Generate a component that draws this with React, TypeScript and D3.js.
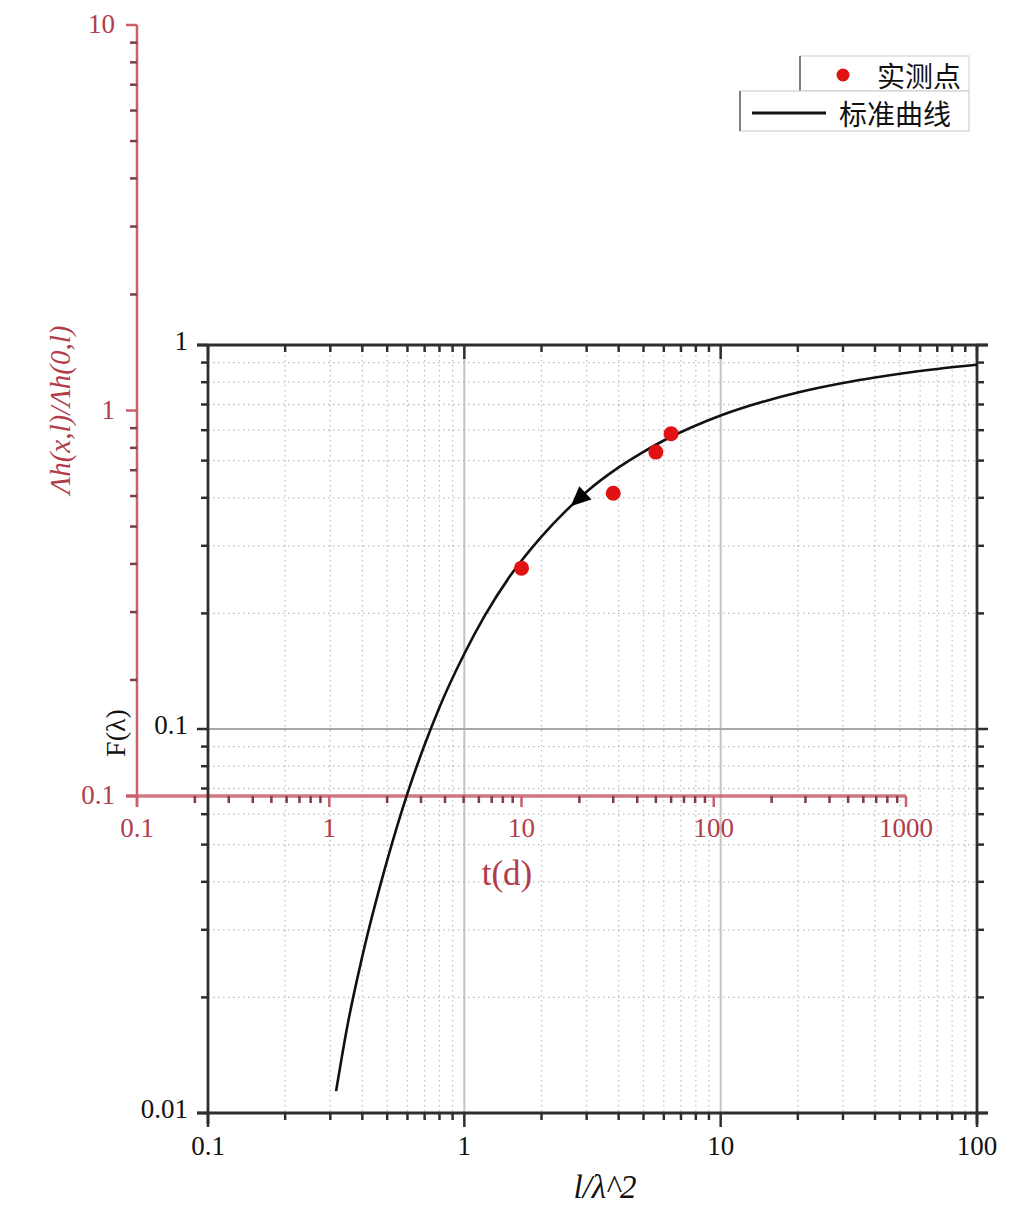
import React from "react";
import * as d3 from "d3";

// Standard curve F(λ) vs 1/λ^2 (black axes)
const curveX = [0.316, 0.35, 0.4, 0.5, 0.6, 0.7, 0.8, 1, 1.2, 1.5, 2, 2.5, 3, 4, 5, 6, 8, 10, 15, 20, 30, 40, 50, 70, 100];
const curveY = [0.0114, 0.0169, 0.0256, 0.0455, 0.068, 0.091, 0.114, 0.157, 0.197, 0.249, 0.317, 0.371, 0.415, 0.48, 0.527, 0.564, 0.617, 0.655, 0.715, 0.752, 0.796, 0.823, 0.842, 0.866, 0.888];
// Measured points (red axes): t(d) vs Δh ratio
const measT = [10, 30, 50, 60];
const measRatio = [0.39, 0.61, 0.78, 0.87];
// Arrow position along the curve (x value)
const arrowAt = 2.6;

const blackXDomain = [0.1, 100];
const blackYDomain = [0.01, 1];
const redXDomain = [0.1, 1000];
const redYDomain = [0.1, 10];
const blackXTickValues = [0.1, 1, 10, 100];
const blackYTickValues = [0.01, 0.1, 1];
const redXTickValues = [0.1, 1, 10, 100, 1000];
const redYTickValues = [0.1, 1, 10];
const blackXTickLabels = ["0.1", "1", "10", "100"];
const blackYTickLabels = ["0.01", "0.1", "1"];
const redXTickLabels = ["0.1", "1", "10", "100", "1000"];
const redYTickLabels = ["0.1", "1", "10"];
const legendLabels = ["实测点", "标准曲线"];

const isMajor = (v: number) => Math.abs(Math.log10(v) - Math.round(Math.log10(v))) < 1e-6;

const SERIF = "'Liberation Serif', 'DejaVu Serif', serif";
const CJK = "'Noto Sans CJK SC', 'Noto Sans', sans-serif";
const RED_TXT = "#b23c4a";
const RED_AX = "#c8606c";
const RED_TICK = "#7e3c4c";
const AX = "#2e2e2e";

export default function App() {
  const xB = d3.scaleLog().domain(blackXDomain).range([208, 977]);
  const yB = d3.scaleLog().domain(blackYDomain).range([1113, 345]);
  const xR = d3.scaleLog().domain(redXDomain).range([137, 906]);
  const yR = d3.scaleLog().domain(redYDomain).range([796, 25]);

  const bxTicks = xB.ticks();
  const byTicks = yB.ticks();
  const rxTicks = xR.ticks();
  const ryTicks = yR.ticks();

  const [x0, x1] = xB.range();
  const [y0, y1] = yB.range(); // y0 bottom, y1 top

  const pts = curveX.map((x, i) => [x, curveY[i]] as [number, number]);
  const line = d3
    .line<[number, number]>()
    .x((d) => xB(d[0]))
    .y((d) => yB(d[1]))
    .curve(d3.curveMonotoneX);

  // arrow: interpolate along curve in log space
  let ai = 0;
  while (ai < curveX.length - 2 && curveX[ai + 1] < arrowAt) ai++;
  const la = Math.log10(curveX[ai]);
  const lb = Math.log10(curveX[ai + 1]);
  const tt = (Math.log10(arrowAt) - la) / (lb - la);
  const ay = Math.pow(10, Math.log10(curveY[ai]) * (1 - tt) + Math.log10(curveY[ai + 1]) * tt);
  const tipX = xB(arrowAt);
  const tipY = yB(ay);
  const dx = xB(curveX[ai + 1]) - xB(curveX[ai]);
  const dy = yB(curveY[ai + 1]) - yB(curveY[ai]);
  const len = Math.hypot(dx, dy);
  const ux = dx / len;
  const uy = dy / len;
  const aL = 20;
  const aW = 9;
  const bx = tipX + ux * aL;
  const by = tipY + uy * aL;
  const arrowPath = `M${tipX},${tipY} L${bx - uy * aW},${by + ux * aW} L${bx + uy * aW},${by - ux * aW} Z`;

  const minorLen = 7;
  const majorLen = 11;

  return (
    <svg
      width={1013}
      height={1208}
      style={{ position: "absolute", left: 0, top: 0, display: "block", background: "#fff" }}
    >
      <rect x={0} y={0} width={1013} height={1208} fill="#fff" />

      {/* black grid */}
      <g>
        {bxTicks
          .filter((v) => v > blackXDomain[0] * 1.0001 && v < blackXDomain[1] * 0.9999)
          .map((v, i) =>
            isMajor(v) ? (
              <line key={"gx" + i} x1={xB(v)} x2={xB(v)} y1={y1} y2={y0} stroke="#c4c4c4" strokeWidth={2} />
            ) : (
              <line key={"gx" + i} x1={xB(v)} x2={xB(v)} y1={y1} y2={y0} stroke="#c2c2c2" strokeWidth={1.3} strokeDasharray="1.5,3.5" />
            )
          )}
        {byTicks
          .filter((v) => v > blackYDomain[0] * 1.0001 && v < blackYDomain[1] * 0.9999)
          .map((v, i) =>
            isMajor(v) ? (
              <line key={"gy" + i} x1={x0} x2={x1} y1={yB(v)} y2={yB(v)} stroke="#a8a8a8" strokeWidth={1.8} />
            ) : (
              <line key={"gy" + i} x1={x0} x2={x1} y1={yB(v)} y2={yB(v)} stroke="#bdbdbd" strokeWidth={1.3} strokeDasharray="1.5,3.5" />
            )
          )}
      </g>

      {/* red axes */}
      <g>
        <line x1={xR(redXDomain[0]) - majorLen} x2={xR(redXDomain[1])} y1={yR(redYDomain[0])} y2={yR(redYDomain[0])} stroke={RED_AX} strokeWidth={3.5} opacity={0.85} />
        <line x1={xR(redXDomain[0])} x2={xR(redXDomain[0])} y1={yR(redYDomain[1])} y2={yR(redYDomain[0]) + majorLen} stroke={RED_AX} strokeWidth={2.5} />
        {ryTicks.map((v, i) => (
          <line
            key={"ryt" + i}
            x1={xR(redXDomain[0]) - (isMajor(v) ? majorLen : minorLen)}
            x2={xR(redXDomain[0])}
            y1={yR(v)}
            y2={yR(v)}
            stroke={isMajor(v) ? RED_AX : RED_TICK}
            strokeWidth={2.5}
          />
        ))}
        {rxTicks.map((v, i) => (
          <line
            key={"rxt" + i}
            x1={xR(v)}
            x2={xR(v)}
            y1={yR(redYDomain[0])}
            y2={yR(redYDomain[0]) + (isMajor(v) ? majorLen : minorLen)}
            stroke={isMajor(v) ? RED_AX : RED_TICK}
            strokeWidth={2.5}
          />
        ))}
        {redYTickValues.map((v, i) => (
          <text
            key={"ryl" + i}
            x={115}
            y={yR(v)}
            dy="-1"
            textAnchor="end"
            dominantBaseline="central"
            fontFamily={SERIF}
            fontSize={27}
            fill={RED_TXT}
          >
            {redYTickLabels[i]}
          </text>
        ))}
        {redXTickValues.map((v, i) => (
          <text key={"rxl" + i} x={xR(v)} y={837} textAnchor="middle" fontFamily={SERIF} fontSize={27} fill={RED_TXT}>
            {redXTickLabels[i]}
          </text>
        ))}
        <text x={507} y={885} textAnchor="middle" fontFamily={SERIF} fontSize={35} fill={RED_TXT}>
          t(d)
        </text>
        <text
          transform="translate(60,410) rotate(-90)"
          textAnchor="middle"
          dominantBaseline="central"
          fontFamily={SERIF}
          fontStyle="italic"
          fontSize={29}
          fill={RED_TXT}
        >
          Λh(x,l)/Λh(0,l)
        </text>
      </g>

      {/* black axes */}
      <g>
        <line x1={x0 - majorLen} x2={x1 + majorLen} y1={y1} y2={y1} stroke={AX} strokeWidth={2.8} />
        <line x1={x0 - majorLen} x2={x1 + majorLen} y1={y0} y2={y0} stroke={AX} strokeWidth={2.8} />
        <line x1={x0} x2={x0} y1={y1} y2={y0 + majorLen} stroke={AX} strokeWidth={2.8} />
        <line x1={x1} x2={x1} y1={y1} y2={y0 + majorLen} stroke={AX} strokeWidth={2.8} />
        {byTicks.map((v, i) => {
          const L = isMajor(v) ? majorLen : minorLen;
          return (
            <g key={"byt" + i}>
              <line x1={x0 - L} x2={x0} y1={yB(v)} y2={yB(v)} stroke={AX} strokeWidth={2.5} />
              <line x1={x1} x2={x1 + L} y1={yB(v)} y2={yB(v)} stroke={AX} strokeWidth={2.5} />
            </g>
          );
        })}
        {bxTicks.map((v, i) => {
          const L = isMajor(v) ? majorLen + 3 : minorLen;
          return (
            <g key={"bxt" + i}>
              <line x1={xB(v)} x2={xB(v)} y1={y0} y2={y0 + L} stroke={AX} strokeWidth={2.5} />
              <line x1={xB(v)} x2={xB(v)} y1={y1} y2={y1 + L} stroke={AX} strokeWidth={2.5} />
            </g>
          );
        })}
        {blackYTickValues.map((v, i) => (
          <text
            key={"byl" + i}
            x={188}
            y={yB(v)}
            dy="-4"
            textAnchor="end"
            dominantBaseline="central"
            fontFamily={SERIF}
            fontSize={27}
            fill="#111"
          >
            {blackYTickLabels[i]}
          </text>
        ))}
        {blackXTickValues.map((v, i) => (
          <text key={"bxl" + i} x={xB(v)} y={1155} textAnchor="middle" fontFamily={SERIF} fontSize={27} fill="#111">
            {blackXTickLabels[i]}
          </text>
        ))}
        <text
          transform="translate(115,733) rotate(-90)"
          textAnchor="middle"
          dominantBaseline="central"
          fontFamily={SERIF}
          fontSize={28}
          fill="#111"
        >
          F(λ)
        </text>
        <text x={605} y={1198} textAnchor="middle" fontFamily={SERIF} fontStyle="italic" fontSize={33} fill="#111">
          l/λ^2
        </text>
      </g>

      {/* standard curve */}
      <path d={line(pts) || ""} fill="none" stroke="#111" strokeWidth={2.6} />
      <path d={arrowPath} fill="#000" />

      {/* measured points */}
      {measT.map((t, i) => (
        <circle key={"pt" + i} cx={xR(t)} cy={yR(measRatio[i])} r={7.5} fill="#e01212" />
      ))}

      {/* legend */}
      <g>
        <rect x={800} y={56} width={169} height={35} fill="#fff" stroke="#d8d8d8" strokeWidth={1.2} />
        <line x1={800} x2={800} y1={56} y2={91} stroke="#808080" strokeWidth={2} />
        <circle cx={843} cy={75} r={6.5} fill="#e01212" />
        <text x={877} y={75} dominantBaseline="central" fontFamily={CJK} fontSize={28} fill="#111">
          {legendLabels[0]}
        </text>
        <rect x={740} y={91} width={229} height={40} fill="#fff" stroke="#d0d0d0" strokeWidth={1.2} />
        <line x1={740} x2={740} y1={91} y2={131} stroke="#808080" strokeWidth={2} />
        <line x1={752} x2={826} y1={113} y2={113} stroke="#111" strokeWidth={3} />
        <text x={839} y={113} dominantBaseline="central" fontFamily={CJK} fontSize={28} fill="#111">
          {legendLabels[1]}
        </text>
      </g>
    </svg>
  );
}
